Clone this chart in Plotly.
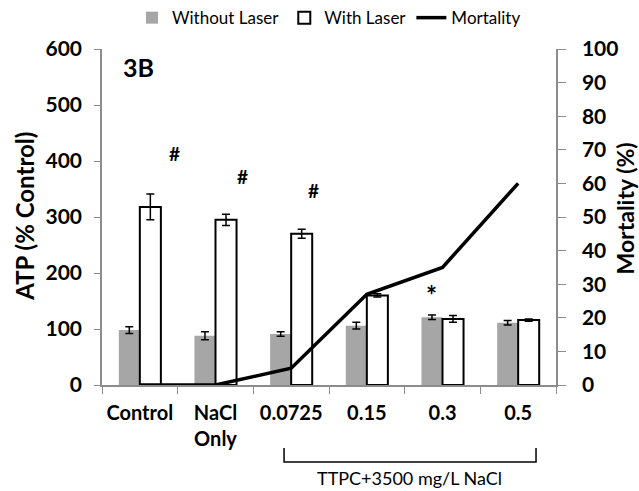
import plotly.graph_objects as go

categories = ["Control", "NaCl<br>Only", "0.0725", "0.15", "0.3", "0.5"]
atp_without = [98, 88, 91, 106, 121, 111]
err_without = [6, 7, 4, 6, 4, 4]
atp_with = [318, 295, 270, 160, 118, 116]
err_with = [23, 10, 8, 3, 6, 2]
mortality = [0, 0, 5, 27, 35, 60]

FONT = "Lato"
GRAY = "#a6a6a6"
AXIS = "#8c8c8c"

fig = go.Figure()
fig.add_trace(go.Bar(
    x=categories, y=atp_without, name="Without Laser",
    marker=dict(color=GRAY, line=dict(width=0)),
    error_y=dict(type="data", array=err_without, color="black", thickness=1.5, width=4)))
fig.add_trace(go.Bar(
    x=categories, y=atp_with, name="With Laser",
    marker=dict(color="white", line=dict(color="black", width=2)),
    error_y=dict(type="data", array=err_with, color="black", thickness=1.5, width=4)))
fig.add_trace(go.Scatter(
    x=categories, y=mortality, name="Mortality", yaxis="y2", mode="lines",
    line=dict(color="black", width=3.5)))

# significance marks (x given as category index)
for idx, yv, dx in [(0, 414, 35), (1, 373, 27), (2, 348, 22)]:
    fig.add_annotation(x=idx, y=yv, text="#", showarrow=False, xshift=dx,
                       font=dict(family=FONT, size=19, color="black", weight="bold"))
fig.add_annotation(x=4, y=161, text="*", showarrow=False, xshift=-11,
                   font=dict(family=FONT, size=26, color="black", weight="bold"))

fig.add_annotation(x=0.08, y=0.946, xref="paper", yref="paper", text="3B",
                   xanchor="center", yanchor="middle", showarrow=False,
                   font=dict(family=FONT, size=25, color="black", weight="bold"))
fig.add_annotation(x=-0.17, y=0.503, xref="paper", yref="paper",
                   text="ATP (% Control)", textangle=-90, showarrow=False,
                   xanchor="center", yanchor="middle",
                   font=dict(family=FONT, size=24, color="black", weight="bold"))
fig.add_annotation(x=1.151, y=0.524, xref="paper", yref="paper",
                   text="Mortality (%)", textangle=-90, showarrow=False,
                   xanchor="center", yanchor="middle",
                   font=dict(family=FONT, size=23, color="black", weight="bold"))

# bracket under the TTPC groups
fig.add_shape(type="path", xref="paper", yref="paper",
              path="M 0.401,-0.1875 L 0.401,-0.229 L 0.956,-0.229 L 0.956,-0.1875",
              line=dict(color="black", width=1.5))
fig.add_annotation(x=0.678, y=-0.277, xref="paper", yref="paper",
                   text="TTPC+3500 mg/L NaCl", showarrow=False,
                   xanchor="center", yanchor="middle",
                   font=dict(family=FONT, size=18, color="black"))

tick_font = dict(family=FONT, size=21, color="black", weight="bold")
fig.update_layout(
    width=639, height=491, barmode="group", bargap=0.444, bargroupgap=0,
    paper_bgcolor="white", plot_bgcolor="white",
    margin=dict(l=102, r=83, t=49, b=106, autoexpand=False),
    font=dict(family=FONT, color="black"),
    legend=dict(orientation="h", x=0.5, xanchor="center", y=1.092, yanchor="middle",
                font=dict(family=FONT, size=17), traceorder="normal"),
    xaxis=dict(type="category", showline=True, linecolor=AXIS, linewidth=1.5,
               ticks="outside", tickson="boundaries", ticklen=7, tickcolor=AXIS,
               tickangle=0, automargin=False,
               tickfont=dict(family=FONT, size=20, color="black", weight="bold"),
               ticklabelstandoff=9, showgrid=False, zeroline=False),
    yaxis=dict(range=[0, 600], dtick=100, showline=True, linecolor=AXIS, linewidth=1.5,
               ticks="outside", ticklen=6, tickcolor=AXIS, showgrid=False, zeroline=False,
               automargin=False, tickfont=tick_font, ticklabelstandoff=8),
    yaxis2=dict(range=[0, 100], dtick=10, overlaying="y", side="right", showline=True,
                linecolor=AXIS, linewidth=1.5, ticks="outside", ticklen=8, tickcolor=AXIS,
                showgrid=False, zeroline=False, automargin=False, tickfont=tick_font,
                ticklabelposition="outside", ticklabelstandoff=12),
)

# page body has a default margin; remove it so the figure sits at the window corner
fig.write_html("out.html", config={"displayModeBar": False},
               post_script="document.body.style.margin='0';")
